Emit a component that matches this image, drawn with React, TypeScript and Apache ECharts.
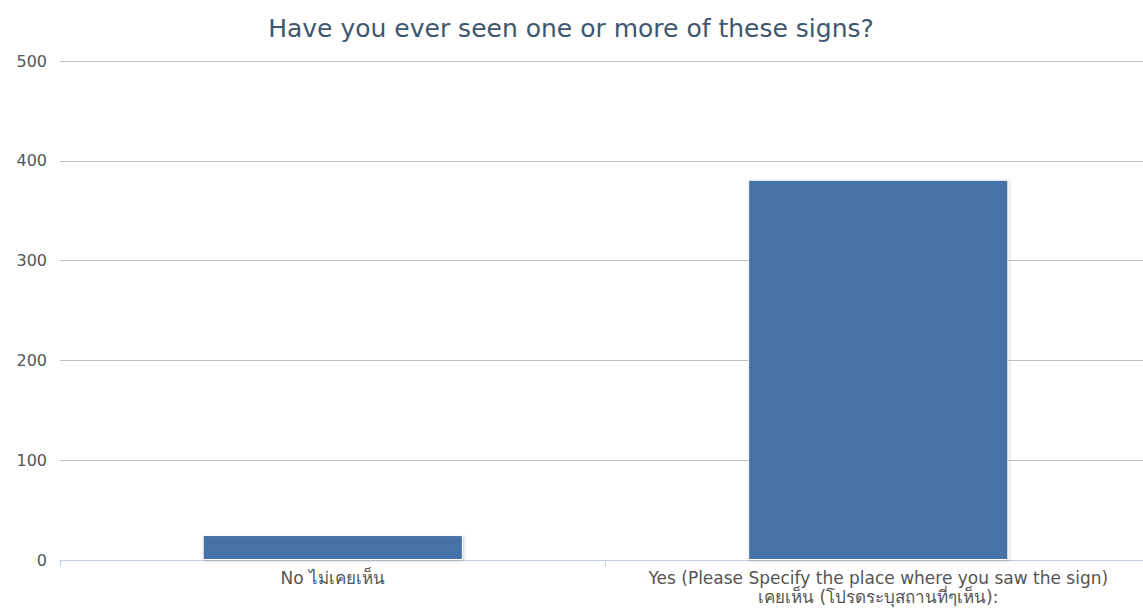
import React, { useEffect, useRef } from "react";
import * as echarts from "echarts";

const titleText = "Have you ever seen one or more of these signs?";
const categories = [
  "No ไม่เคยเห็น",
  "Yes (Please Specify the place where you saw the sign)\nเคยเห็น (โปรดระบุสถานที่ๆเห็น):",
];
const values = [25, 381];
const yTicks = { min: 0, max: 500, interval: 100 };

export default function App() {
  const ref = useRef<HTMLDivElement>(null);
  useEffect(() => {
    document.body.style.margin = "0";
    document.body.style.overflow = "hidden";
    const chart = echarts.init(ref.current!, null, { renderer: "svg" });
    const font = "'DejaVu Sans', 'Noto Sans', sans-serif";
    chart.setOption({
      animation: false,
      backgroundColor: "#ffffff",
      title: {
        text: titleText,
        left: 566,
        textAlign: "center",
        top: 11,
        textStyle: { color: "#3E576F", fontSize: 25, fontWeight: "normal", fontFamily: font },
      },
      grid: { left: 60, right: 0, top: 61, bottom: 50, containLabel: false },
      xAxis: {
        type: "category",
        data: categories,
        axisLine: { lineStyle: { color: "#C0D0E0", width: 1 } },
        axisTick: { show: true, length: 6, lineStyle: { color: "#C0D0E0" } },
        axisLabel: {
          interval: 0,
          hideOverlap: false,
          color: "#555555",
          fontSize: 17,
          fontFamily: font,
          margin: 8,
          lineHeight: 19,
        },
      },
      yAxis: {
        type: "value",
        min: yTicks.min,
        max: yTicks.max,
        interval: yTicks.interval,
        axisLine: { show: false },
        axisTick: { show: false },
        splitLine: { lineStyle: { color: "#C0C0C0", width: 1 } },
        axisLabel: { color: "#555555", fontSize: 16, fontFamily: font, margin: 13 },
      },
      series: [
        {
          type: "bar",
          data: values,
          barWidth: "47.7%",
          itemStyle: {
            color: "#4572A7",
            borderColor: "#ffffff",
            borderWidth: 1,
            shadowColor: "rgba(0,0,0,0.2)",
            shadowBlur: 3,
            shadowOffsetX: 1,
            shadowOffsetY: 1,
          },
        },
      ],
    });
    return () => chart.dispose();
  }, []);
  return (
    <div style={{ width: 1143, height: 610, overflow: "hidden" }}>
      <div ref={ref} style={{ width: 1151, height: 610 }} />
    </div>
  );
}
